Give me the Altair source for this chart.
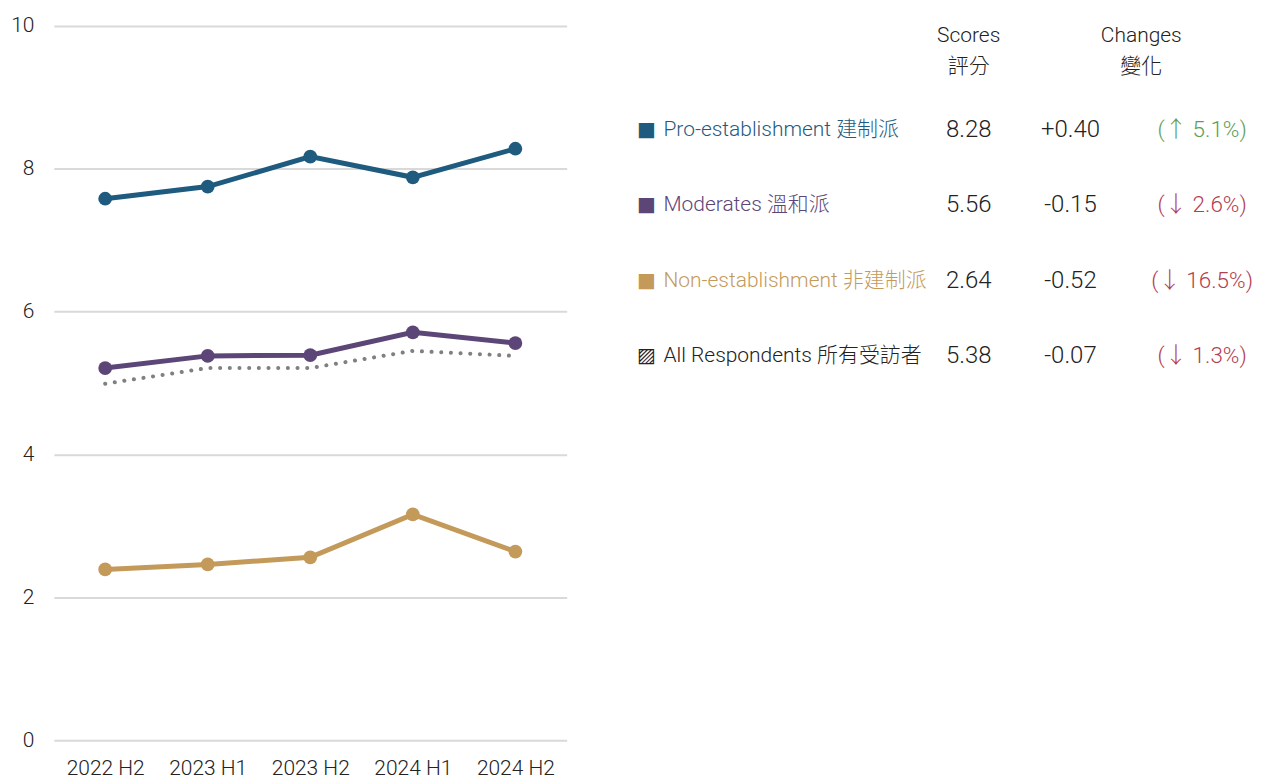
import altair as alt
import pandas as pd

periods = ["2022 H2", "2023 H1", "2023 H2", "2024 H1", "2024 H2"]
series = ["Pro-establishment 建制派", "Moderates 溫和派", "Non-establishment 非建制派", "All Respondents 所有受訪者"]
pro = [7.58, 7.75, 8.17, 7.88, 8.28]
moderates = [5.21, 5.38, 5.39, 5.71, 5.56]
nonest = [2.39, 2.46, 2.56, 3.16, 2.64]
allresp = [4.99, 5.21, 5.21, 5.45, 5.38]

scores = ["8.28", "5.56", "2.64", "5.38"]
changes = ["+0.40", "-0.15", "-0.52", "-0.07"]
pcts = ["(↑ 5.1%)", "(↓ 2.6%)", "(↓ 16.5%)", "(↓ 1.3%)"]
markers = ["■", "■", "■", "▨"]

colors = ["#1f5b7e", "#5c4677", "#c49a5b", "#222222"]
FONT = "Roboto, Noto Sans CJK TC"

rows = []
for name, vals in zip(series[:3], [pro, moderates, nonest]):
    for p, v in zip(periods, vals):
        rows.append({"period": p, "series": name, "value": v})
lines_df = pd.DataFrame(rows)
all_df = pd.DataFrame({"period": periods, "value": allresp})

x_enc = alt.X("period:N", sort=periods, title=None,
              axis=alt.Axis(labelAngle=0, labelAlign="center", ticks=False, domain=False, labelFontSize=21,
                            labelPadding=17, labelColor="#222222", labelFont=FONT, labelFontWeight=300, grid=False))
y_enc = alt.Y("value:Q", title=None, scale=alt.Scale(domain=[0, 10]),
              axis=alt.Axis(values=[0, 2, 4, 6, 8, 10], format="d", ticks=False, domain=False, labelFontSize=21,
                            labelPadding=20, labelColor="#222222", labelFont=FONT, labelFontWeight=300,
                            gridColor="#d9d9d9", gridWidth=2))
color_enc = alt.Color("series:N", scale=alt.Scale(domain=series, range=colors), legend=None)

base = alt.Chart(lines_df).encode(x=x_enc, y=y_enc, color=color_enc)
line = base.mark_line(strokeWidth=5)
pts = base.mark_circle(size=190, opacity=1)
dotted = alt.Chart(all_df).mark_line(color="#808080", strokeWidth=4, strokeDash=[0.1, 9.6], strokeCap="round").encode(
    x=x_enc, y=y_enc)

left = alt.layer(dotted, line, pts).properties(width=514, height=716)

tab = pd.DataFrame({"series": series, "score": scores, "change": changes, "pct": pcts, "marker": markers})
tab["dir"] = ["up" if c.startswith("+") else "down" for c in changes]

row_y = alt.Y("series:N", sort=series, axis=None, scale=alt.Scale(domain=series, range=[104, 331], padding=0))
tbase = alt.Chart(tab).encode(y=row_y)
txt = dict(fontSize=21, font=FONT, fontWeight=300, baseline="middle")
num = dict(fontSize=24, font=FONT, fontWeight=300, baseline="middle")
marker_t = tbase.mark_text(align="center", fontSize=20, font="DejaVu Sans", baseline="middle").encode(
    x=alt.value(60), text="marker:N", color=color_enc)
label_t = tbase.mark_text(align="left", **txt).encode(x=alt.value(77), text="series:N", color=color_enc)
score_t = tbase.mark_text(align="center", color="#222222", **num).encode(x=alt.value(383), text="score:N")
change_t = tbase.mark_text(align="center", color="#222222", **num).encode(x=alt.value(485), text="change:N")
pct_t = tbase.mark_text(align="center", fontSize=22.5, font=FONT, fontWeight=300, baseline="middle").encode(
    x=alt.value(617), text="pct:N",
    color=alt.Color("dir:N", scale=alt.Scale(domain=["up", "down"], range=["#5e9e57", "#b3404f"]), legend=None))

hdr = pd.DataFrame({"h": ["Scores", "Changes"], "l1": ["Scores", "Changes"], "l2": ["評分", "變化"]})
hbase = alt.Chart(hdr).encode(x=alt.X("h:N", axis=None, scale=alt.Scale(domain=["Scores", "Changes"], range=[383, 556], padding=0)))
h1 = hbase.mark_text(align="center", color="#222222", **txt).encode(y=alt.value(10), text="l1:N")
h2 = hbase.mark_text(align="center", color="#222222", **txt).encode(y=alt.value(41), text="l2:N")

right = alt.layer(marker_t, label_t, score_t, change_t, pct_t, h1, h2).resolve_scale(
    color="independent").properties(width=660, height=716)

chart = alt.hconcat(left, right, spacing=20, bounds="flush").configure_view(stroke=None).properties(
    padding={"left": 2, "top": 6, "right": 0, "bottom": 0})

chart.save("out.html", embed_options={"renderer": "svg", "actions": False})
